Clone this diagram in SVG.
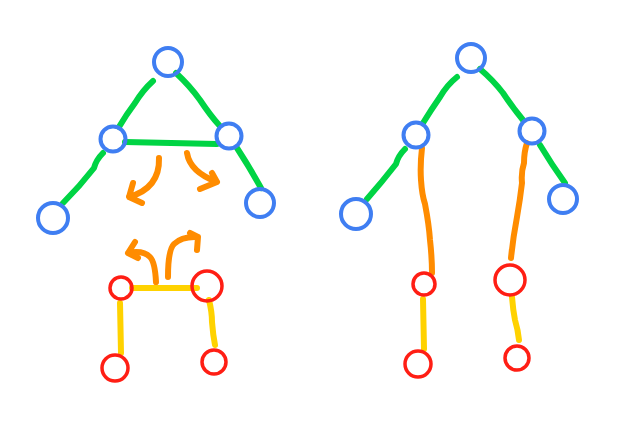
<svg xmlns="http://www.w3.org/2000/svg" width="631" height="426" viewBox="0 0 631 426">
<style>
.b{fill:none;stroke:#3F7EF2;stroke-width:4}
.r{fill:none;stroke:#FF1E14;stroke-width:3.5}
.g{fill:none;stroke:#00D444;stroke-width:6;stroke-linecap:round;stroke-linejoin:round}
.o{fill:none;stroke:#FF8C00;stroke-width:6;stroke-linecap:round;stroke-linejoin:round}
.y{fill:none;stroke:#FFD200;stroke-width:6;stroke-linecap:round;stroke-linejoin:round}
</style>
<rect width="631" height="426" fill="#fff"/>
<g id="connectors">
<!-- left figure green -->
<path class="g" d="M153,81 Q143,90 135,103 Q126,115 119,127"/>
<path class="g" d="M176,73 Q190,86 200,100 Q210,115 219,125"/>
<path class="g" d="M125,142 L217,144"/>
<path class="g" d="M103,153 Q96,160 94,168 Q80,186 63,203"/>
<path class="g" d="M237,148 Q250,168 261,188"/>
<!-- left figure orange arrows -->
<path class="o" d="M159,158 Q160,188 129,197 M133,183 L129,197 L142,203"/>
<path class="o" d="M187,153 Q190,172 217,182 M212,173 L217,182 L200,189"/>
<path class="o" d="M156,282 Q155,262 150,257 Q143,250 128,253 M135,242 L128,253 L138,258"/>
<path class="o" d="M168,277 Q168,250 174,244 Q182,236 198,237 M190,233 L198,237 L197,250"/>
<!-- left figure yellow -->
<path class="y" d="M132,288 L197,288"/>
<path class="y" d="M120,303 L121,353"/>
<path class="y" d="M209,300 Q212,312 212,322 Q213,335 215,345"/>
<!-- right figure green -->
<path class="g" d="M457,77 Q447,85 440,97 Q431,110 423,123"/>
<path class="g" d="M480,69 Q493,80 503,93 Q513,108 523,120"/>
<path class="g" d="M405,149 Q398,156 396,164 Q382,182 367,199"/>
<path class="g" d="M540,145 Q552,165 565,183"/>
<!-- right figure orange -->
<path class="o" d="M422,148 Q420,165 421,180 Q422,195 425,204 Q429,225 430,240 Q432,258 432,273"/>
<path class="o" d="M527,143 Q524,152 524,163 Q521,172 522,183 Q520,200 517,217 Q513,238 511,258"/>
<!-- right figure yellow -->
<path class="y" d="M423,299 L424,349"/>
<path class="y" d="M512,297 Q513,310 515,320 Q518,330 519,340"/>
</g>
<g id="n1"><circle class="b" cx="168" cy="62" r="14"/></g>
<g id="n2"><circle class="b" cx="113" cy="139" r="12.5"/></g>
<g id="n3"><circle class="b" cx="229" cy="136" r="12.5"/></g>
<g id="n4"><circle class="b" cx="53" cy="218" r="15"/></g>
<g id="n5"><circle class="b" cx="260" cy="203" r="14"/></g>
<g id="n6"><circle class="r" cx="121" cy="288" r="11"/></g>
<g id="n7"><circle class="r" cx="207" cy="286" r="15"/></g>
<g id="n8"><circle class="r" cx="115" cy="368" r="13"/></g>
<g id="n9"><circle class="r" cx="214" cy="362" r="12"/></g>
<g id="m1"><circle class="b" cx="471" cy="58" r="14"/></g>
<g id="m2"><circle class="b" cx="416" cy="135" r="12.5"/></g>
<g id="m3"><circle class="b" cx="532" cy="131" r="12.5"/></g>
<g id="m4"><circle class="b" cx="356" cy="214" r="15"/></g>
<g id="m5"><circle class="b" cx="563" cy="199" r="14"/></g>
<g id="m6"><circle class="r" cx="424" cy="284" r="11"/></g>
<g id="m7"><circle class="r" cx="510" cy="280" r="15"/></g>
<g id="m8"><circle class="r" cx="418" cy="364" r="13"/></g>
<g id="m9"><circle class="r" cx="517" cy="358" r="12"/></g>
</svg>
